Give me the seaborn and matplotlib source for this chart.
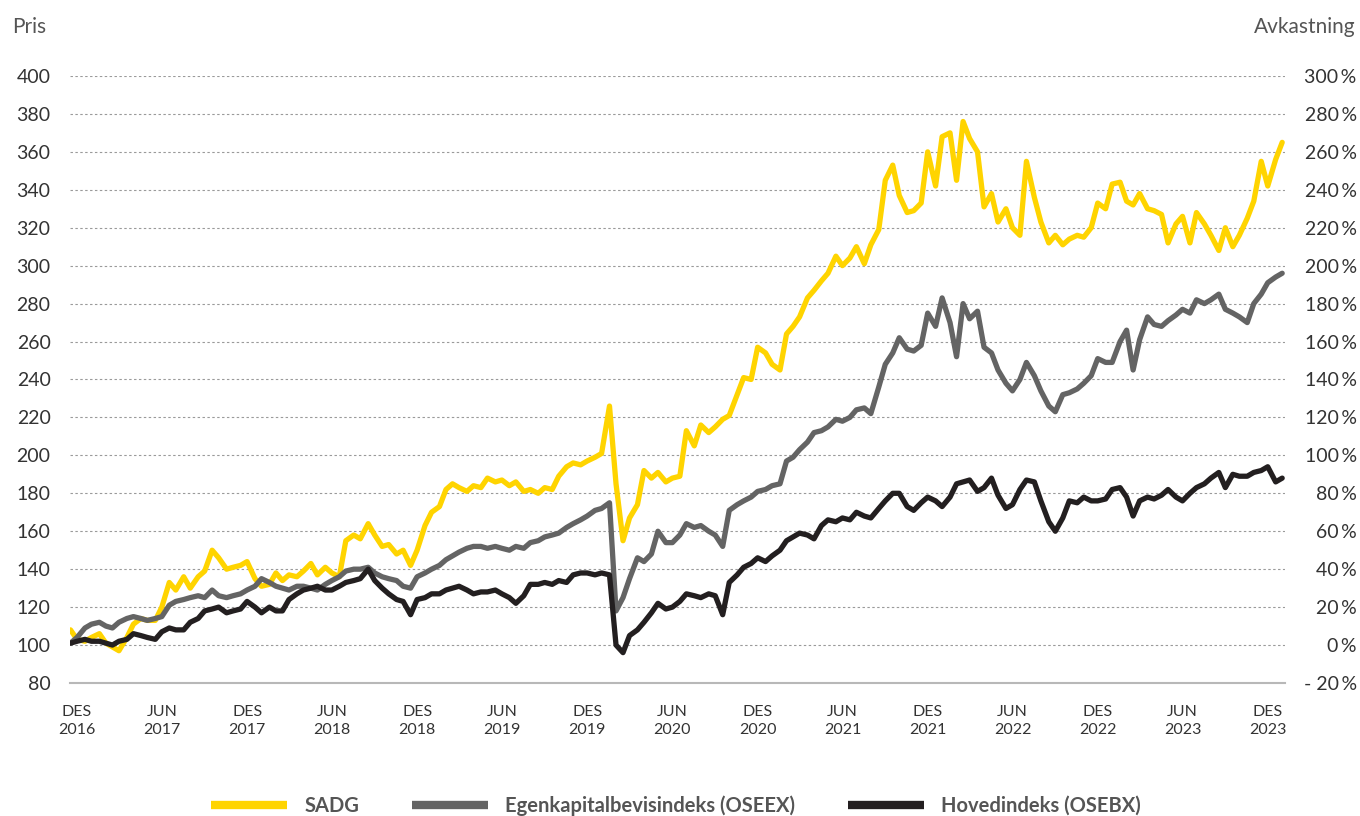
import numpy as np
import pandas as pd
import seaborn as sns
import matplotlib.pyplot as plt

# halvmånedlige verdier (1. og 15. i hver måned) fra des 2016
sadg = [108, 103, 102, 104, 106, 101, 99, 97, 104, 111, 114, 113, 113, 120, 133, 129,
        136, 130, 136, 139, 150, 146, 140, 141, 142, 144, 135, 131, 132, 138, 134, 137,
        136, 139, 143, 137, 141, 138, 136, 155, 158, 156, 164, 158, 152, 153, 148, 150,
        142, 150, 163, 170, 173, 182, 185, 183, 181, 184, 183, 188, 186, 187, 184, 186,
        181, 182, 180, 183, 182, 189, 194, 196, 195, 197, 199, 201, 226, 185, 155, 167,
        174, 192, 188, 191, 186, 188, 189, 213, 205, 216, 212, 215, 219, 221, 232, 241,
        240, 257, 254, 248, 245, 264, 268, 273, 283, 287, 292, 296, 305, 300, 304, 310,
        301, 311, 319, 345, 353, 337, 328, 329, 333, 360, 342, 368, 370, 345, 376, 367,
        360, 331, 338, 323, 330, 320, 316, 355, 336, 323, 312, 316, 311, 314, 316, 315,
        320, 333, 330, 343, 344, 334, 332, 338, 330, 329, 327, 312, 322, 326, 312, 328,
        322, 316, 308, 320, 310, 316, 325, 334, 355, 342, 356, 365]

oseex = [101, 104, 109, 111, 112, 110, 109, 112, 114, 115, 114, 113, 114, 115, 121, 123,
         124, 125, 126, 125, 129, 126, 125, 126, 127, 129, 131, 135, 133, 131, 130, 129,
         131, 131, 130, 129, 132, 134, 136, 139, 140, 140, 141, 138, 136, 135, 134, 131,
         130, 136, 138, 140, 142, 145, 147, 149, 151, 152, 152, 151, 152, 151, 150, 152,
         151, 154, 155, 157, 158, 159, 162, 164, 166, 168, 171, 172, 175, 118, 125, 135,
         146, 144, 148, 160, 154, 154, 158, 164, 162, 163, 160, 158, 152, 171, 174, 176,
         178, 181, 182, 184, 185, 197, 199, 203, 207, 212, 213, 215, 219, 218, 220, 224,
         225, 222, 236, 248, 254, 262, 256, 255, 258, 275, 268, 283, 270, 252, 280, 272,
         276, 257, 254, 245, 238, 234, 240, 249, 242, 234, 226, 223, 232, 233, 235, 238,
         242, 251, 249, 249, 260, 266, 245, 261, 273, 269, 268, 271, 274, 277, 275, 282,
         280, 282, 285, 277, 275, 273, 270, 280, 285, 291, 294, 296]

osebx = [101, 102, 103, 102, 102, 101, 100, 102, 103, 106, 105, 104, 103, 107, 109, 108,
         108, 112, 114, 118, 119, 120, 117, 118, 119, 123, 120, 117, 120, 118, 118, 124,
         127, 129, 130, 131, 129, 129, 131, 133, 134, 135, 140, 134, 130, 127, 124, 123,
         116, 124, 125, 127, 127, 129, 130, 131, 129, 127, 128, 128, 129, 127, 125, 122,
         126, 132, 132, 133, 132, 134, 133, 137, 138, 138, 137, 138, 137, 100, 96, 105,
         108, 112, 117, 122, 119, 120, 123, 127, 126, 125, 127, 126, 116, 133, 137, 141,
         143, 146, 144, 147, 150, 155, 157, 159, 158, 156, 163, 166, 165, 167, 166, 170,
         168, 167, 172, 176, 180, 180, 173, 171, 175, 178, 176, 173, 178, 185, 186, 187,
         181, 183, 188, 179, 172, 174, 182, 187, 186, 176, 165, 160, 167, 176, 175, 178,
         176, 176, 177, 182, 183, 178, 168, 176, 178, 177, 179, 182, 178, 176, 180, 183,
         185, 188, 191, 183, 190, 189, 189, 191, 192, 194, 186, 188]

series_names = ["SADG", "Egenkapitalbevisindeks (OSEEX)", "Hovedindeks (OSEBX)"]
colors = ["#FFD400", "#646464", "#231F20"]

tick_months = ["2016-12", "2017-06", "2017-12", "2018-06", "2018-12", "2019-06", "2019-12",
               "2020-06", "2020-12", "2021-06", "2021-12", "2022-06", "2022-12", "2023-06",
               "2023-12"]
tick_labels = ["DES\n2016", "JUN\n2017", "DES\n2017", "JUN\n2018", "DES\n2018", "JUN\n2019",
               "DES\n2019", "JUN\n2020", "DES\n2020", "JUN\n2021", "DES\n2021", "JUN\n2022",
               "DES\n2022", "JUN\n2023", "DES\n2023"]
tick_dates = [pd.Timestamp(m + "-15") for m in tick_months]

dates = pd.date_range("2016-12-01", periods=len(sadg), freq="SMS")
df = pd.DataFrame({"date": dates, series_names[0]: sadg,
                   series_names[1]: oseex, series_names[2]: osebx})
df_long = df.melt(id_vars="date", var_name="serie", value_name="pris")

sns.set_theme(style="white")
plt.rcParams["font.family"] = ["Lato", "DejaVu Sans"]

fig = plt.figure(figsize=(13.6, 8.16), dpi=100)
ax = fig.add_axes([0.0515, 0.163, 0.893, 0.7439])

sns.lineplot(data=df_long, x="date", y="pris", hue="serie", hue_order=series_names,
             palette=colors, linewidth=3.8, ax=ax)

handles, labels = ax.get_legend_handles_labels()
ax.get_legend().remove()

ax.set_xlim(pd.Timestamp("2016-11-30"), pd.Timestamp("2024-01-20"))
ax.set_ylim(80, 400)
ax.set_yticks(np.arange(80, 401, 20))
ax.set_xticks(tick_dates)
ax.set_xticklabels(tick_labels, fontsize=11.5, color="#333333", linespacing=1.3)
ax.set_xlabel("")
ax.set_ylabel("")
ax.tick_params(axis="y", length=0, pad=14, labelsize=14, labelcolor="#333333")
ax.tick_params(axis="x", length=0, pad=16)

ax.yaxis.grid(True, linestyle=(0, (2.2, 2.2)), color="#9a9a9a", linewidth=0.8)
for g in ax.get_ygridlines()[:1]:
    g.set_visible(False)
for s in ["top", "right", "left"]:
    ax.spines[s].set_visible(False)
ax.spines["bottom"].set_color("#b8b8b8")
ax.spines["bottom"].set_linewidth(1.5)

ax2 = ax.twinx()
ax2.set_ylim(-20, 300)
pct_ticks = np.arange(-20, 301, 20)
ax2.set_yticks(pct_ticks)
ax2.set_yticklabels([("- " + str(abs(v)) if v < 0 else str(v)) + "\u2009%" for v in pct_ticks])
ax2.tick_params(axis="y", length=0, pad=52, labelsize=14, labelcolor="#333333")
for lbl in ax2.get_yticklabels():
    lbl.set_horizontalalignment("right")
for s in ax2.spines.values():
    s.set_visible(False)

fig.text(0.009, 0.967, "Pris", fontsize=15, color="#555555", va="center", ha="left")
fig.text(0.997, 0.967, "Avkastning", fontsize=15, color="#555555", va="center", ha="right")

leg = fig.legend(handles, labels, loc="center", bbox_to_anchor=(0.497, 0.013), ncol=3,
                 frameon=False, handlelength=3.8, handletextpad=0.85, columnspacing=2.6,
                 prop={"weight": "bold", "size": 14.5})
for h in leg.legend_handles:
    h.set_linewidth(6)
    h.set_solid_capstyle("butt")
for t in leg.get_texts():
    t.set_color("#555555")

plt.savefig("out.png", dpi=100)
plt.close()
